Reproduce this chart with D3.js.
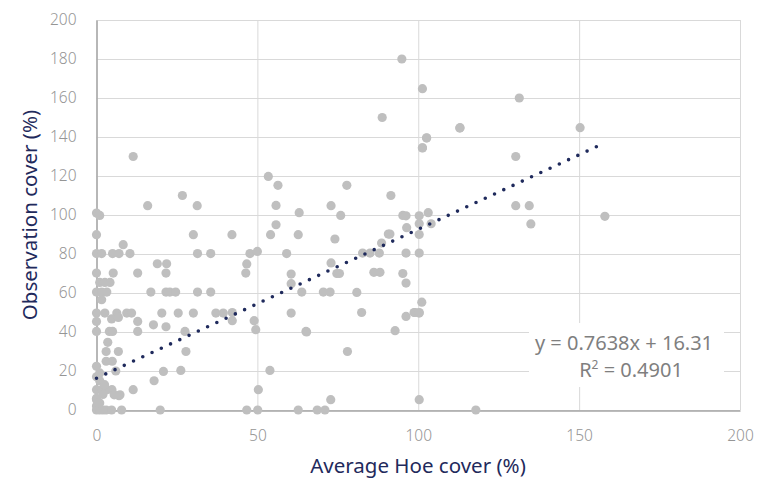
<!DOCTYPE html>
<html><head><meta charset="utf-8">
<script src="https://cdn.jsdelivr.net/npm/d3@7"></script>
<style>
body{margin:0;background:#fff;}
svg{display:block;font-family:"Noto Sans","Open Sans",sans-serif;}
</style></head><body>
<svg id="chart" width="757" height="479"></svg>
<script>
// Average Hoe cover (%) values
const hoeCover = [
  94.9,101.3,131.4,88.8,113,102.6,101.3,130.3,150.3,77.8,72.9,91.5,75.9,95.2,100.3,103.1,130.3,158,135,104,
  11.4,15.9,26.7,31.3,53.4,56.4,55.8,63,0,1,
  0,30.1,42.1,54.1,55.8,62.7,8.3,
  0,1.6,5,7,10.4,31.4,35.5,47.7,50,59.1,
  18.9,21.8,46.7,
  0,5.2,12.8,21.6,46.4,60.5,
  1,2.6,4.2,60.5,
  0,1.6,3.2,16.9,21.6,22.8,24.6,31.4,35.5,63.8,70.5,72.6,80.9,
  1.6,
  0,2.6,6.3,9.4,10.9,20.3,25.4,30.1,37.1,39.4,42.2,60.5,82.4,99,100.3,
  4.7,6.8,0,12.8,42.2,49,17.7,21.6,49.5,
  0,4,5,12.8,27.5,65.1,65.3,92.8,
  3.5,3,6.8,27.8,78,3,4.9,0,6,20.8,26.2,53.9,17.9,
  0,1.6,3.2,4.8,11.4,50.3,7,0,72.8,100.3,
  0,1,2,3,4.7,7.8,19.8,46.7,50.1,62.7,68.6,71,117.9,
  0,1,0,2,1,0,2.5,1,0.5,5.5,7.3,
  72.9,74.1,74.7,75.5,82.7,85,87.9,86.2,88.1,88.6,90.7,91.2,95.2,96.2,96.2,96.2,96.4,100.3,100.3,100.3,101.1,96.2,98.7,100.3,
  112.9,102.6,101.3,134.5
];
// Observation cover (%) values
const obsCover = [
  180,164.8,160,150,144.8,139.6,134.5,130,144.8,115.2,104.8,110,99.8,99.8,99.6,101.2,104.8,99.3,95.4,95.5,
  130,104.8,110,104.8,119.8,115.2,104.9,101.2,101,99.8,
  89.9,89.9,89.9,89.9,95,89.9,84.8,
  80.2,80.2,80.2,80.2,80.2,80.2,80.2,80.2,81.3,80.2,
  75,75,74.9,
  70.2,70.2,70.2,70.2,70.2,69.7,
  65.4,65.4,65.4,64.8,
  60.5,60.5,60.5,60.5,60.5,60.5,60.5,60.5,60.5,60.5,60.5,60.5,60.3,
  56.6,
  49.7,49.7,49.7,49.7,49.7,49.7,49.7,49.7,49.7,49.7,50,49.7,50,50,50,
  46.7,47.5,45.4,45.4,45.8,45.8,43.7,42.7,41.2,
  40.3,40.3,40.3,40.3,40.3,40.3,40,40.7,
  34.7,30,30,30,30,25,25,22.4,20,19.8,20.3,20.3,15,
  10.4,10.4,10.4,10.4,10.4,10.4,7.3,5.3,5.3,5.3,
  0,0,0,0,0,0,0,0,0,0,0,0,0,
  2,3.6,6,8,15,17,13,19,3.6,7.8,7.8,
  75.4,87.7,70,70,80.5,80.5,80.5,70.6,70.6,85.6,90.2,90.2,70,80.5,65.1,48,93.5,80.5,90,95.5,55.3,99.6,50,49.7,
  144.6,139.5,134.4,104.8
];
const xTicks = [0, 50, 100, 150, 200];
const yTicks = [0, 20, 40, 60, 80, 100, 120, 140, 160, 180, 200];
const slope = 0.7638, intercept = 16.31;
const eqLabel = "y = 0.7638x + 16.31";
const r2Value = "0.4901";
const xTitle = "Average Hoe cover (%)";
const yTitle = "Observation cover (%)";

const points = hoeCover.map((x, i) => ({x, y: obsCover[i]}));

const svg = d3.select("#chart");
const L = 96.5, R = 740, T = 20, B = 410;
const x = d3.scaleLinear().domain([0, 200]).range([L, R]);
const y = d3.scaleLinear().domain([0, 200]).range([B, T]);

// grid
svg.append("g").selectAll("line.h").data(yTicks).join("line")
  .attr("x1", L).attr("x2", R).attr("y1", d => y(d) + 0.5).attr("y2", d => y(d) + 0.5)
  .attr("stroke", "#d9d9d9").attr("stroke-width", 1);
svg.append("g").selectAll("line.v").data(xTicks).join("line")
  .attr("y1", T).attr("y2", B).attr("x1", d => x(d) + 0.5).attr("x2", d => x(d) + 0.5)
  .attr("stroke", "#d9d9d9").attr("stroke-width", 1);

// axes
const xAxis = svg.append("g").attr("transform", `translate(0,${B + 0.5})`)
  .call(d3.axisBottom(x).tickValues(xTicks).tickSize(0).tickPadding(19));
xAxis.select(".domain").attr("stroke", "#a6a6a6").attr("stroke-width", 1.5);
const yAxis = svg.append("g").attr("transform", `translate(${L},0)`)
  .call(d3.axisLeft(y).tickValues(yTicks).tickSize(0).tickPadding(20));
yAxis.select(".domain").attr("stroke", "#a6a6a6").attr("stroke-width", 1.5);
svg.selectAll(".tick text").attr("fill", "#959595").attr("font-size", 15.5)
  .attr("font-weight", 300)
  .attr("font-family", "'Noto Sans', sans-serif");

// points
svg.append("g").selectAll("circle").data(points).join("circle")
  .attr("cx", d => x(d.x)).attr("cy", d => y(d.y)).attr("r", 4.6)
  .attr("fill", "#bfbfbf");

// trendline
const xMax = d3.max(hoeCover);
svg.append("line")
  .attr("x1", x(0)).attr("y1", y(intercept))
  .attr("x2", x(xMax)).attr("y2", y(slope * xMax + intercept))
  .attr("stroke", "#1f2a5c").attr("stroke-width", 3.6)
  .attr("stroke-linecap", "round").attr("stroke-dasharray", "0 10.2");

// label box
svg.append("rect").attr("x", 529).attr("y", 323).attr("width", 195).attr("height", 64).attr("fill", "#fff");
svg.append("text").attr("x", 624).attr("y", 350).attr("text-anchor", "middle")
  .attr("font-size", 20).attr("fill", "#7f7f7f").text(eqLabel);
const r2 = svg.append("text").attr("x", 631).attr("y", 377).attr("text-anchor", "middle")
  .attr("font-size", 20).attr("fill", "#7f7f7f");
r2.append("tspan").text("R");
r2.append("tspan").attr("font-size", 12).attr("dy", -8).text("2");
r2.append("tspan").attr("dy", 8).text(" = " + r2Value);

// titles
svg.append("text").attr("x", 418).attr("y", 473).attr("text-anchor", "middle")
  .attr("font-size", 20.5).attr("fill", "#1f2a5c").text(xTitle);
svg.append("text").attr("transform", `translate(37,${(T + B) / 2}) rotate(-90)`)
  .attr("text-anchor", "middle").attr("font-size", 20.5).attr("fill", "#1f2a5c").text(yTitle);
</script>
</body></html>
